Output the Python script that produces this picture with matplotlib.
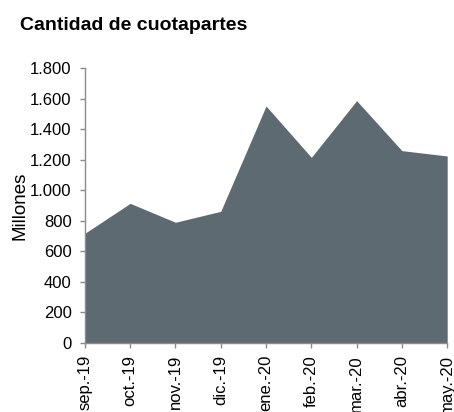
import matplotlib
matplotlib.use("Agg")
import matplotlib.pyplot as plt
from matplotlib.ticker import FuncFormatter

categories = ["sep.-19", "oct.-19", "nov.-19", "dic.-19", "ene.-20",
              "feb.-20", "mar.-20", "abr.-20", "may.-20"]
values = [718, 914, 790, 862, 1551, 1215, 1586, 1259, 1224]
y_ticks = [0, 200, 400, 600, 800, 1000, 1200, 1400, 1600, 1800]

plt.rcParams['font.family'] = ['Liberation Sans', 'DejaVu Sans']

fig = plt.figure(figsize=(4.54, 4.12), dpi=100)
ax = fig.add_axes([0.187, 0.1675, 0.798, 0.6675])

x = list(range(len(categories)))
ax.fill_between(x, values, 0, color="#5e6a71", linewidth=0)

ax.set_xlim(0, len(categories) - 1)
ax.set_ylim(0, 1800)
ax.set_yticks(y_ticks)
ax.yaxis.set_major_formatter(FuncFormatter(lambda v, p: f"{int(v):,}".replace(",", ".")))
ax.set_xticks(x)
ax.set_xticklabels(categories, rotation=90)

for s in ["top", "right"]:
    ax.spines[s].set_visible(False)
for s in ["left", "bottom"]:
    ax.spines[s].set_color("#8c8c8c")
    ax.spines[s].set_linewidth(1.0)
ax.tick_params(axis="both", colors="#8c8c8c", labelcolor="black", length=3.6, width=1.0, labelsize=12)
ax.tick_params(axis="y", pad=6)
ax.tick_params(axis="x", pad=5)

ax.set_ylabel("Millones", fontsize=13.5, labelpad=1)
fig.text(0.045, 0.927, "Cantidad de cuotapartes", fontsize=14, fontweight="bold", ha="left", va="baseline")

fig.savefig("out.png", dpi=100)
